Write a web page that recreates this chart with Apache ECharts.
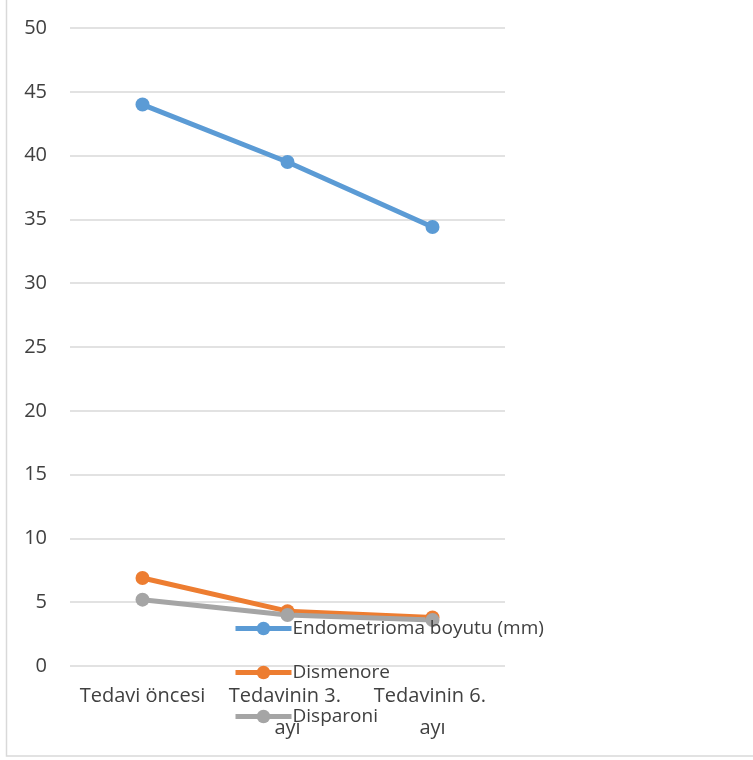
<!DOCTYPE html>
<html>
<head>
<meta charset="utf-8">
<script src="https://cdn.jsdelivr.net/npm/echarts@6/dist/echarts.min.js"></script>
<style>
html,body{margin:0;padding:0;background:#fff;}
#chart{width:753px;height:760px;}
</style>
</head>
<body>
<div id="chart"></div>
<script>
const categories = ['Tedavi öncesi', 'Tedavinin 3. ayı', 'Tedavinin 6. ayı'];
const seriesNames = ['Endometrioma boyutu (mm)', 'Dismenore', 'Disparoni'];
const endometrioma = [44.0, 39.5, 34.4];
const dismenore = [6.9, 4.3, 3.8];
const disparoni = [5.2, 4.0, 3.6];
const colors = ['#5B9BD5', '#ED7D31', '#A5A5A5'];

const FONT = 'Open Sans';
const TXT = '#404040';
const FS = 20;

const chart = echarts.init(document.getElementById('chart'), null, {renderer: 'canvas'});
const mk = (name, data, color) => ({
  name: name,
  type: 'line',
  data: data,
  symbol: 'circle',
  symbolSize: 14,
  itemStyle: {color: color},
  lineStyle: {color: color, width: 5},
  z: 2
});
chart.setOption({
  animation: false,
  backgroundColor: '#fff',
  color: colors,
  graphic: [{
    type: 'rect',
    shape: {x: 6.5, y: -10, width: 800, height: 766},
    style: {fill: 'none', stroke: '#D9D9D9', lineWidth: 1.5},
    silent: true
  }],
  grid: {left: 70, right: 248, top: 28, bottom: 94, containLabel: false},
  xAxis: {
    type: 'category',
    data: categories,
    boundaryGap: true,
    axisLine: {show: false},
    axisTick: {show: false},
    axisLabel: {
      color: TXT, fontFamily: FONT, fontSize: FS, margin: 14,
      width: 140, overflow: 'break', lineHeight: 32, interval: 0
    }
  },
  yAxis: {
    type: 'value',
    min: 0, max: 50, interval: 5,
    axisLine: {show: false},
    axisTick: {show: false},
    splitLine: {lineStyle: {color: '#D9D9D9', width: 1.5}},
    axisLabel: {color: TXT, fontFamily: FONT, fontSize: FS, margin: 23}
  },
  legend: {
    orient: 'vertical',
    left: 228,
    top: 614,
    itemWidth: 56,
    itemHeight: 17,
    itemGap: 25,
    data: seriesNames,
    lineStyle: {width: 5},
    textStyle: {color: TXT, fontFamily: FONT, fontSize: 19, padding: [-4, 0, 0, -4]}
  },
  series: [
    mk(seriesNames[0], endometrioma, colors[0]),
    mk(seriesNames[1], dismenore, colors[1]),
    mk(seriesNames[2], disparoni, colors[2])
  ]
});
</script>
</body>
</html>
